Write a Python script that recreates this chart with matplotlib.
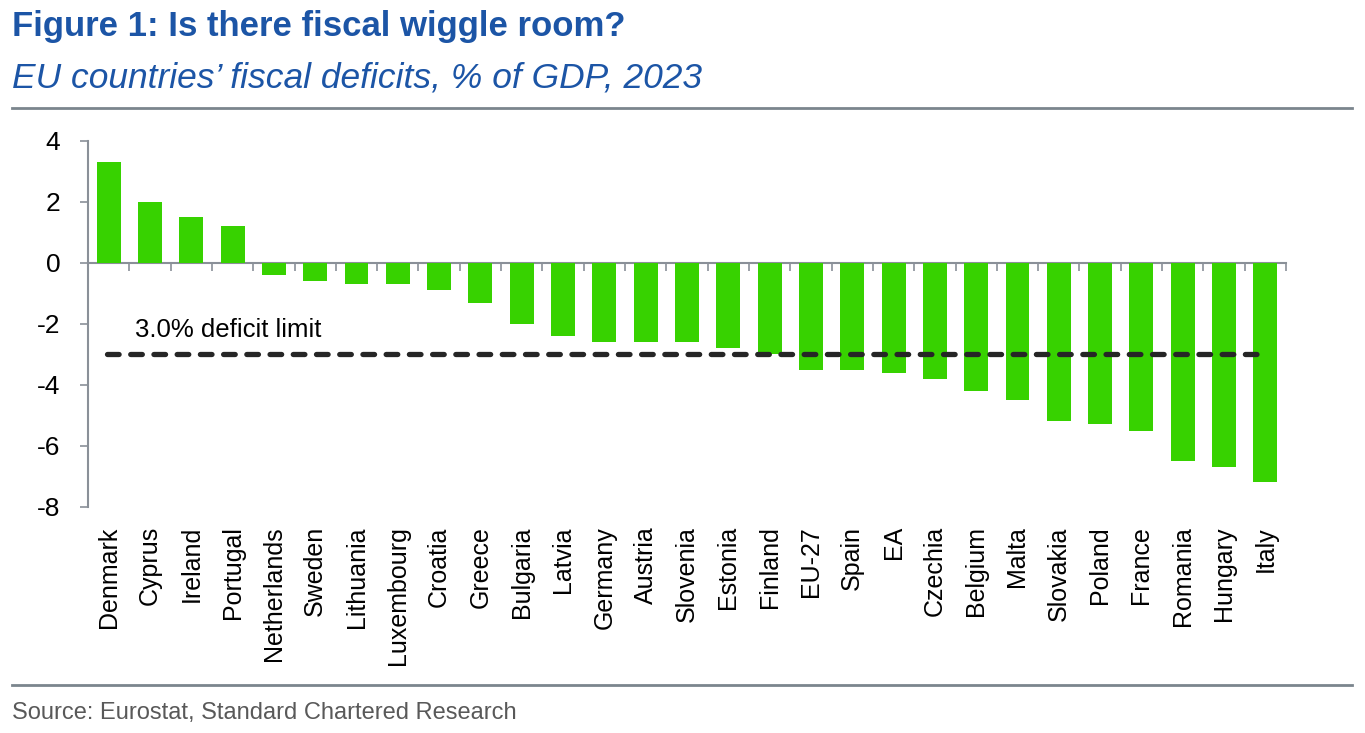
import numpy as np
import matplotlib
matplotlib.use("Agg")
import matplotlib.pyplot as plt
from matplotlib.lines import Line2D

plt.rcParams['font.family'] = ['Liberation Sans', 'DejaVu Sans']

# data
countries = ['Denmark', 'Cyprus', 'Ireland', 'Portugal', 'Netherlands', 'Sweden',
             'Lithuania', 'Luxembourg', 'Croatia', 'Greece', 'Bulgaria', 'Latvia',
             'Germany', 'Austria', 'Slovenia', 'Estonia', 'Finland', 'EU-27', 'Spain',
             'EA', 'Czechia', 'Belgium', 'Malta', 'Slovakia', 'Poland', 'France',
             'Romania', 'Hungary', 'Italy']
deficits = [3.3, 2.0, 1.5, 1.2, -0.4, -0.6, -0.7, -0.7, -0.9, -1.3, -2.0, -2.4,
            -2.6, -2.6, -2.6, -2.8, -3.0, -3.5, -3.5, -3.6, -3.8, -4.2, -4.5, -5.2,
            -5.3, -5.5, -6.5, -6.7, -7.2]
deficit_limit = -3.0
yticks = [4, 2, 0, -2, -4, -6, -8]

blue = '#1c55a6'
green = '#37d200'
grey = '#8a9098'

fig = plt.figure(figsize=(13.65, 7.33), dpi=100)
ax = fig.add_axes([88 / 1365, 1 - 506.7 / 733, (1286 - 88) / 1365, (506.7 - 141) / 733])

x = np.arange(len(countries))
ax.bar(x, deficits, width=0.58, color=green, zorder=2)
ax.hlines(deficit_limit, -0.05, len(countries) - 0.95, colors='#262626', linewidth=3.8,
          linestyles=(0, (2.2, 2.2)), zorder=3, capstyle='round')
ax.text(0.64, deficit_limit + 0.58, '3.0% deficit limit', fontsize=18.5, color='black',
        va='baseline', ha='left')

ax.set_xlim(-0.5, len(countries) - 0.5)
ax.set_ylim(min(yticks), max(yticks))
ax.set_yticks(yticks)
ax.set_yticklabels([str(v) for v in yticks])
ax.tick_params(axis='y', labelsize=19, length=6, width=1.2, color=grey, pad=14)
ax.set_xticks(x)
ax.set_xticklabels(countries, rotation=90, ha='center', va='top')
ax.tick_params(axis='x', labelsize=18, length=0, pad=14)

for s in ['top', 'right', 'bottom']:
    ax.spines[s].set_visible(False)
ax.spines['left'].set_color(grey)
ax.spines['left'].set_linewidth(1.5)

# zero line with category boundary ticks
sec = ax.secondary_xaxis(0, transform=ax.transData)
sec.spines['bottom'].set_color(grey)
sec.spines['bottom'].set_linewidth(1.5)
sec.set_xticks(np.arange(-0.5, len(countries)))
sec.set_xticklabels([])
sec.tick_params(axis='x', length=6, width=1.2, color=grey, direction='out')

fig.text(12 / 1365, 1 - 36 / 733, 'Figure 1: Is there fiscal wiggle room?', fontsize=25,
         fontweight='bold', color=blue, va='baseline', ha='left')
fig.text(12 / 1365, 1 - 87 / 733, 'EU countries\u2019 fiscal deficits, % of GDP, 2023',
         fontsize=25.5, style='italic', color=blue, va='baseline', ha='left')
fig.add_artist(Line2D([12 / 1365, 1352 / 1365], [1 - 108 / 733] * 2,
                      transform=fig.transFigure, color='#7b858d', linewidth=2))
fig.add_artist(Line2D([12 / 1365, 1352 / 1365], [1 - 685 / 733] * 2,
                      transform=fig.transFigure, color='#7b858d', linewidth=2))
fig.text(12 / 1365, 1 - 719 / 733, 'Source: Eurostat, Standard Chartered Research',
         fontsize=17, color='#595959', va='baseline', ha='left')

fig.savefig('out.png', dpi=100)
